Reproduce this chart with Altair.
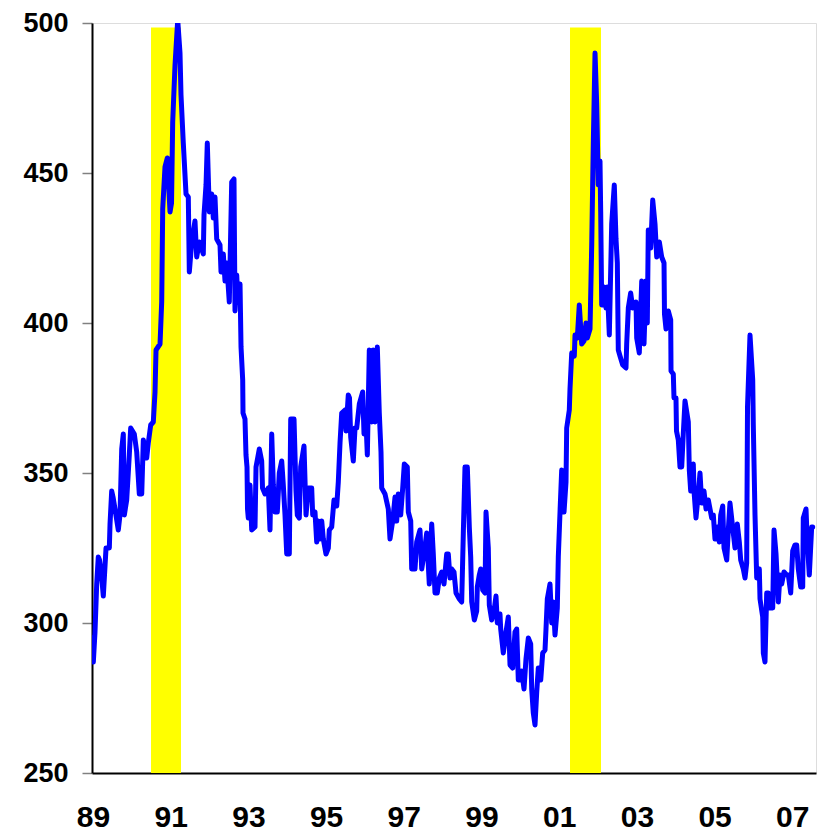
import altair as alt
import pandas as pd

# Weekly-style series (decimal year, value)
dates = [
    1988.975, 1989.008, 1989.051, 1989.095, 1989.136, 1989.167, 1989.219, 1989.265,
    1989.335, 1989.420, 1989.438, 1989.481, 1989.515, 1989.566, 1989.651, 1989.695,
    1989.739, 1989.780, 1989.806, 1989.867, 1989.934, 1989.970, 1990.063, 1990.125,
    1990.192, 1990.254, 1990.295, 1990.382, 1990.423, 1990.485, 1990.552, 1990.596,
    1990.622, 1990.725, 1990.768, 1990.776, 1990.794, 1990.853, 1990.913, 1990.982,
    1991.021, 1991.051, 1991.111, 1991.180, 1991.239, 1991.265, 1991.324, 1991.394,
    1991.453, 1991.479, 1991.541, 1991.625, 1991.669, 1991.736, 1991.839, 1991.857,
    1991.909, 1991.942, 1991.994, 1992.055, 1992.097, 1992.140, 1992.184, 1992.269,
    1992.295, 1992.354, 1992.398, 1992.441, 1992.508, 1992.570, 1992.629, 1992.655,
    1992.699, 1992.732, 1992.784, 1992.810, 1992.853, 1992.861, 1992.912, 1992.938,
    1992.964, 1992.977, 1992.997, 1993.041, 1993.085, 1993.170, 1993.196, 1993.281,
    1993.342, 1993.363, 1993.427, 1993.512, 1993.556, 1993.600, 1993.641, 1993.685,
    1993.744, 1993.795, 1993.857, 1993.898, 1993.942, 1993.986, 1994.053, 1994.089,
    1994.174, 1994.225, 1994.259, 1994.310, 1994.346, 1994.431, 1994.483, 1994.542,
    1994.629, 1994.655, 1994.714, 1994.758, 1994.799, 1994.843, 1994.887, 1994.928,
    1994.997, 1995.057, 1995.082, 1995.144, 1995.203, 1995.273, 1995.314, 1995.358,
    1995.402, 1995.486, 1995.512, 1995.571, 1995.602, 1995.633, 1995.700, 1995.744,
    1995.788, 1995.855, 1995.942, 1995.976, 1996.027, 1996.061, 1996.112, 1996.174,
    1996.215, 1996.259, 1996.318, 1996.369, 1996.413, 1996.431, 1996.516, 1996.601,
    1996.645, 1996.714, 1996.774, 1996.817, 1996.858, 1996.920, 1996.972, 1997.013,
    1997.090, 1997.116, 1997.178, 1997.203, 1997.288, 1997.332, 1997.417, 1997.461,
    1997.520, 1997.589, 1997.656, 1997.718, 1997.759, 1997.803, 1997.862, 1997.914,
    1997.976, 1998.035, 1998.104, 1998.145, 1998.189, 1998.233, 1998.292, 1998.344,
    1998.429, 1998.490, 1998.532, 1998.575, 1998.635, 1998.686, 1998.722, 1998.748,
    1998.815, 1998.876, 1998.892, 1998.943, 1998.979, 1999.031, 1999.090, 1999.116,
    1999.175, 1999.201, 1999.263, 1999.322, 1999.373, 1999.407, 1999.476, 1999.494,
    1999.561, 1999.631, 1999.690, 1999.734, 1999.803, 1999.862, 1999.906, 1999.947,
    2000.009, 2000.035, 2000.094, 2000.145, 2000.205, 2000.266, 2000.292, 2000.333,
    2000.377, 2000.421, 2000.462, 2000.524, 2000.575, 2000.635, 2000.660, 2000.694,
    2000.763, 2000.807, 2000.848, 2000.892, 2000.951, 2000.977, 2001.021, 2001.064,
    2001.124, 2001.175, 2001.193, 2001.260, 2001.278, 2001.322, 2001.389, 2001.407,
    2001.466, 2001.517, 2001.579, 2001.638, 2001.690, 2001.723, 2001.793, 2001.837,
    2001.878, 2001.922, 2001.965, 2002.006, 2002.050, 2002.068, 2002.094, 2002.153,
    2002.205, 2002.238, 2002.290, 2002.351, 2002.418, 2002.462, 2002.496, 2002.521,
    2002.565, 2002.635, 2002.719, 2002.737, 2002.779, 2002.840, 2002.892, 2002.977,
    2002.995, 2003.062, 2003.124, 2003.183, 2003.234, 2003.268, 2003.293, 2003.355,
    2003.407, 2003.466, 2003.510, 2003.577, 2003.638, 2003.698, 2003.710, 2003.749,
    2003.808, 2003.870, 2003.878, 2003.937, 2003.955, 2004.006, 2004.019, 2004.066,
    2004.109, 2004.153, 2004.194, 2004.238, 2004.323, 2004.349, 2004.385, 2004.452,
    2004.470, 2004.521, 2004.580, 2004.624, 2004.668, 2004.727, 2004.779, 2004.838,
    2004.882, 2004.925, 2004.967, 2005.010, 2005.070, 2005.121, 2005.157, 2005.209,
    2005.242, 2005.312, 2005.353, 2005.396, 2005.481, 2005.525, 2005.584, 2005.636,
    2005.672, 2005.739, 2005.783, 2005.826, 2005.847, 2005.911, 2005.981, 2005.996,
    2006.040, 2006.084, 2006.151, 2006.169, 2006.238, 2006.254, 2006.297, 2006.341,
    2006.382, 2006.426, 2006.496, 2006.529, 2006.581, 2006.640, 2006.683, 2006.727,
    2006.786, 2006.856, 2006.897, 2006.959, 2007.010, 2007.069, 2007.113, 2007.154,
    2007.216, 2007.268, 2007.283, 2007.353, 2007.386, 2007.438, 2007.499, 2007.525,
]

claims = [
    295, 287, 297, 313, 322, 321, 316, 309,
    325, 325, 333, 344, 342, 338, 331, 336,
    358, 363, 336, 341, 356, 365, 363, 357,
    343, 343, 361, 355, 360, 366, 367, 377,
    391, 393, 407, 416, 438, 452, 455, 437,
    440, 467, 486, 501, 490, 476, 460, 443,
    442, 417, 427, 434, 422, 427, 423, 436,
    446, 460, 437, 443, 435, 442, 428, 426,
    417, 423, 414, 420, 407, 447, 448, 404,
    416, 407, 413, 392, 381, 370, 368, 356,
    352, 338, 335, 346, 331, 332, 352, 358,
    354, 345, 343, 345, 331, 363, 346, 337,
    337, 350, 354, 346, 336, 323, 323, 368,
    368, 344, 336, 335, 352, 359, 336, 345,
    345, 336, 337, 327, 334, 328, 334, 328,
    323, 325, 331, 332, 341, 339, 347, 360,
    370, 371, 364, 376, 375, 362, 354, 365,
    365, 373, 377, 363, 367, 356, 391, 367,
    391, 367, 392, 370, 357, 345, 343, 338,
    328, 334, 342, 334, 343, 336, 345, 353,
    352, 337, 334, 318, 318, 327, 331, 318,
    323, 330, 313, 333, 323, 310, 310, 315,
    317, 313, 323, 323, 315, 318, 317, 310,
    308, 307, 330, 352, 352, 332, 322, 307,
    301, 304, 312, 316, 318, 311, 310, 337,
    325, 306, 301, 304, 309, 300, 303, 298,
    290, 297, 302, 286, 285, 297, 298, 281,
    281, 284, 278, 288, 295, 293, 278, 270,
    266, 277, 285, 281, 290, 291, 298, 308,
    313, 300, 307, 296, 305, 322, 337, 351,
    337, 347, 365, 371, 378, 390, 389, 396,
    395, 406, 393, 394, 400, 395, 398, 426,
    460, 490, 473, 446, 454, 437, 406, 412,
    405, 412, 396, 433, 446, 428, 420, 391,
    389, 386, 385, 393, 405, 410, 405, 407,
    395, 390, 414, 393, 414, 400, 431, 425,
    441, 433, 422, 427, 422, 420, 403, 398,
    404, 401, 384, 383, 375, 375, 364, 361,
    352, 352, 363, 374, 367, 351, 344, 353,
    344, 335, 343, 350, 340, 344, 338, 341,
    338, 335, 336, 328, 332, 327, 336, 339,
    325, 321, 331, 340, 330, 325, 333, 327,
    321, 318, 315, 320, 372, 396, 381, 366,
    336, 315, 318, 308, 302, 290, 287, 310,
    310, 305, 305, 331, 323, 307, 316, 313,
    317, 316, 316, 310, 324, 326, 326, 318,
    312, 312, 335, 338, 327, 316, 332, 332,
]

# Shaded periods (recessions)
shade_start = [1990.493, 2001.278]
shade_end = [1991.265, 2002.076]
shade_bottom = [250, 250]
shade_top = [498.5, 498.5]

year_ticks = [1989, 1991, 1993, 1995, 1997, 1999, 2001, 2003, 2005, 2007]
value_ticks = [250, 300, 350, 400, 450, 500]

series = pd.DataFrame({"year": dates, "value": claims})
shades = pd.DataFrame({"start": shade_start, "end": shade_end,
                       "bottom": shade_bottom, "top": shade_top})

x_scale = alt.Scale(domain=[1988.974, 2007.61], nice=False, zero=False)
y_scale = alt.Scale(domain=[250, 500], nice=False, zero=False)

FONT = "Liberation Sans"

x_axis = alt.Axis(
    values=year_ticks, title=None, grid=False, ticks=False,
    labelExpr="substring(toString(datum.value), 2, 4)",
    labelFont=FONT, labelFontSize=30, labelFontWeight="bold", labelColor="black",
    labelPadding=29, domainColor="black", domainWidth=2, labelFlush=False,
)
y_axis = alt.Axis(
    values=value_ticks, title=None, grid=False, tickSize=10, tickColor="#808080",
    tickWidth=1.5, labelFont=FONT, labelFontSize=27, labelFontWeight="bold",
    labelColor="black", labelPadding=14, domainColor="black", domainWidth=2,
    labelFlush=False,
)

bars = alt.Chart(shades).mark_rect(color="#FFFF00").encode(
    x=alt.X("start:Q", scale=x_scale, axis=x_axis),
    x2="end:Q",
    y=alt.Y("bottom:Q", scale=y_scale, axis=y_axis),
    y2="top:Q",
)

line = alt.Chart(series).mark_line(
    color="#0000FF", strokeWidth=5, clip=True, strokeJoin="round", strokeCap="round"
).encode(
    x=alt.X("year:Q", scale=x_scale, axis=x_axis),
    y=alt.Y("value:Q", scale=y_scale, axis=y_axis),
)

chart = alt.layer(bars, line).properties(
    width=724, height=750,
    autosize=alt.AutoSizeParams(type="none"),
    padding={"left": 84, "top": 15, "right": 7, "bottom": 58},
).configure_view(stroke="black", strokeWidth=2).configure(background="white")

chart.save("out.html", embed_options={"renderer": "svg", "actions": False})
